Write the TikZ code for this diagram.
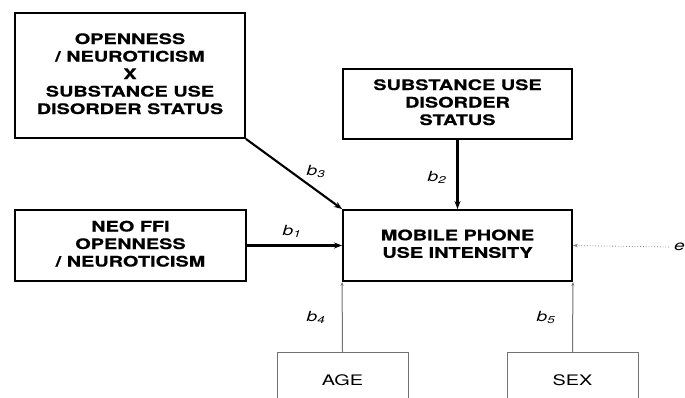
\documentclass[tikz,border=0pt]{standalone}
\usepackage{fontspec}
\usepackage{graphicx}
\usetikzlibrary{arrows.meta}
\newfontfamily\hv{TeX Gyre Heros}[BoldFeatures={FakeBold=0.5}]
\newcommand{\widetxt}[1]{\scalebox{1.37}[1]{\begin{tabular}{@{}c@{}}#1\end{tabular}}}
\begin{document}
\begin{tikzpicture}[x=1pt,y=-1pt,
  bbox/.style={draw=black,line width=1.9pt,minimum width=#1,inner sep=0pt,
    font=\hv\bfseries\fontsize{14.5}{17.5}\selectfont},
  gbox/.style={draw=black!55,line width=0.8pt,minimum width=131pt,inner sep=0pt,
    font=\hv\fontsize{14.5}{17.5}\selectfont},
  thickarr/.style={line width=2.1pt,-{Stealth[length=8pt,width=6pt]}},
  grayarr/.style={draw=black!55,line width=1pt,-{Stealth[length=4pt,width=3pt]}},
  dotarr/.style={draw=black!50,line width=0.8pt,dotted,-{Stealth[length=5pt,width=3.5pt]}},
  coef/.style={font=\hv\itshape\fontsize{14}{16}\selectfont,inner sep=0pt}]
\useasboundingbox (0,0) rectangle (685,397);
\clip (0,0) rectangle (685,397);
\fill[white] (0,0) rectangle (685,397);
\node[bbox=230pt,minimum height=125pt] (inter) at (130,75.5)
  {\widetxt{OPENNESS\\/ NEUROTICISM\\X\\SUBSTANCE USE\\DISORDER STATUS}};
\node[bbox=229pt,minimum height=70pt] (sud) at (457.5,104)
  {\widetxt{SUBSTANCE USE\\DISORDER\\STATUS}};
\node[bbox=231pt,minimum height=71pt] (neo) at (130.5,245.5)
  {\widetxt{NEO FFI\\OPENNESS\\/ NEUROTICISM}};
\node[bbox=229pt,minimum height=71pt] (main) at (457.5,245.5)
  {\widetxt{MOBILE PHONE\\USE INTENSITY}};
\node[gbox,minimum height=60pt,anchor=north] (age) at (342.5,352) {\widetxt{AGE}};
\node[gbox,minimum height=60pt,anchor=north] (sex) at (572.5,352) {\widetxt{SEX}};
\node[coef,anchor=west] (e) at (674,247) {\widetxt{e}};
\draw[thickarr] (inter.south east) -- (main.north west);
\draw[thickarr] (sud.south) -- (main.north);
\draw[thickarr] (neo.east) -- (main.west);
\draw[grayarr] (age.north) -- (main.south west);
\draw[grayarr] (sex.north) -- (main.south east);
\draw[dotarr] ([xshift=-5pt]e.west) -- (main.east);
\node[coef] (b3) at (316,172) {\widetxt{b\textsubscript{3}}};
\node[coef] (b2) at (437,178) {\widetxt{b\textsubscript{2}}};
\node[coef] (b1) at (292,232) {\widetxt{b\textsubscript{1}}};
\node[coef] (b4) at (316,318) {\widetxt{b\textsubscript{4}}};
\node[coef] (b5) at (546,318) {\widetxt{b\textsubscript{5}}};
\end{tikzpicture}
\end{document}
